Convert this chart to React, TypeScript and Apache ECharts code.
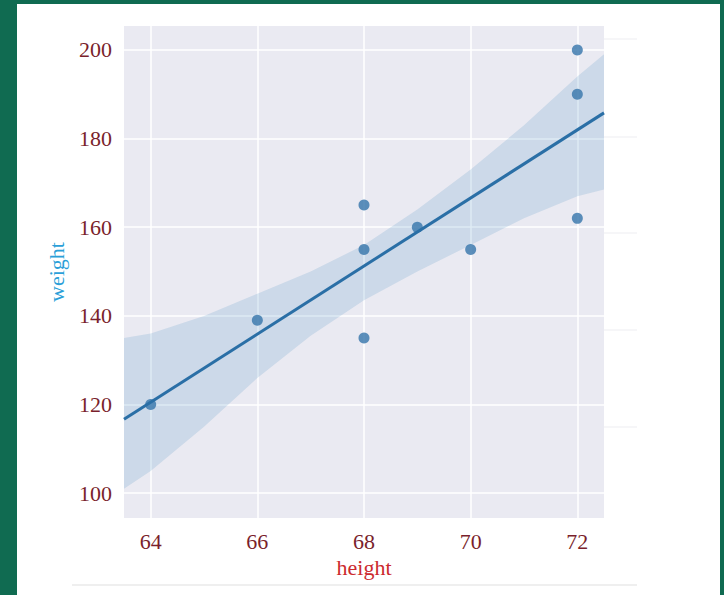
import React, { useEffect, useRef } from "react";
import * as echarts from "echarts";

const heights = [64, 66, 68, 68, 68, 69, 70, 72, 72, 72];
const weights = [120, 139, 135, 155, 165, 160, 155, 162, 190, 200];
// fitted regression line end points
const fitX = [63.5, 72.5];
const fitY = [116.7, 185.8];
// confidence band
const bandX = [63.5, 64, 65, 66, 67, 68, 69, 70, 71, 72, 72.5];
const bandUpper = [135, 136, 140, 145, 150, 156, 164, 173, 183, 194, 199];
const bandLower = [101, 105, 115, 126, 135.5, 143.5, 150, 156, 162, 167, 168.5];
// ticks
const xTicks = [64, 66, 68, 70, 72];
const yTicks = [100, 120, 140, 160, 180, 200];

const FONT = "'Liberation Serif', 'Times New Roman', serif";

export default function App() {
  const ref = useRef<HTMLDivElement>(null);
  useEffect(() => {
    if (!ref.current) return;
    const chart = echarts.init(ref.current, undefined, { renderer: "svg" });
    const ghostYs = [35, 133, 229, 326, 423];
    chart.setOption({
      animation: false,
      backgroundColor: "#ffffff",
      grid: {
        left: 107,
        top: 22,
        width: 480,
        height: 492,
        show: true,
        backgroundColor: "#eaeaf2",
        borderWidth: 0,
      },
      xAxis: {
        type: "value",
        min: 63.5,
        max: 72.5,
        name: "height",
        nameLocation: "middle",
        nameGap: 38,
        nameTextStyle: { color: "#cc2a2e", fontFamily: FONT, fontSize: 22 },
        axisLine: { show: false },
        axisTick: { show: false, customValues: xTicks },
        axisLabel: {
          customValues: xTicks,
          color: "#7a1f2c",
          fontFamily: FONT,
          fontSize: 22,
          margin: 12,
        },
        splitLine: { show: true, lineStyle: { color: "#ffffff", width: 1.5 } },
      },
      yAxis: {
        type: "value",
        min: 94.4,
        max: 205.4,
        name: "weight",
        nameLocation: "middle",
        nameGap: 57,
        nameTextStyle: { color: "#2b9fd8", fontFamily: FONT, fontSize: 22 },
        axisLine: { show: false },
        axisTick: { show: false, customValues: yTicks },
        axisLabel: {
          customValues: yTicks,
          color: "#7a1f2c",
          fontFamily: FONT,
          fontSize: 22,
          margin: 12,
        },
        splitLine: { show: true, lineStyle: { color: "#ffffff", width: 1.5 } },
      },
      graphic: [
        {
          type: "line",
          shape: { x1: 55, y1: 581, x2: 620, y2: 581 },
          style: { stroke: "#efefef", lineWidth: 2 },
        },
        ...ghostYs.map((y) => ({
          type: "line",
          shape: { x1: 587, y1: y, x2: 620, y2: y },
          style: { stroke: "#f6f6f8", lineWidth: 2 },
        })),
      ],
      series: [
        {
          type: "custom",
          clip: true,
          data: bandX.map((x, i) => [x, bandUpper[i], bandLower[i]]),
          encode: { x: 0, y: [1, 2] },
          renderItem: (params: any, api: any) => {
            if (params.dataIndex !== 0) return null;
            const pts: number[][] = [];
            bandX.forEach((x, i) => pts.push(api.coord([x, bandUpper[i]])));
            for (let i = bandX.length - 1; i >= 0; i--) {
              pts.push(api.coord([bandX[i], bandLower[i]]));
            }
            return {
              type: "polygon",
              shape: { points: pts },
              style: { fill: "rgba(31,119,180,0.15)" },
            };
          },
          z: 1,
        },
        {
          type: "scatter",
          data: heights.map((h, i) => [h, weights[i]]),
          symbolSize: 11,
          itemStyle: { color: "#3574aa" },
          z: 2,
        },
        {
          type: "line",
          data: fitX.map((x, i) => [x, fitY[i]]),
          showSymbol: false,
          lineStyle: { color: "#2a6fa6", width: 3 },
          z: 3,
        },
      ],
    });
    return () => chart.dispose();
  }, []);
  return (
    <div
      style={{
        position: "fixed",
        left: 0,
        top: 0,
        width: 724,
        height: 595,
        background: "#106b51",
      }}
    >
      <div
        ref={ref}
        style={{ position: "absolute", left: 17, top: 4, width: 703, height: 591 }}
      />
    </div>
  );
}
